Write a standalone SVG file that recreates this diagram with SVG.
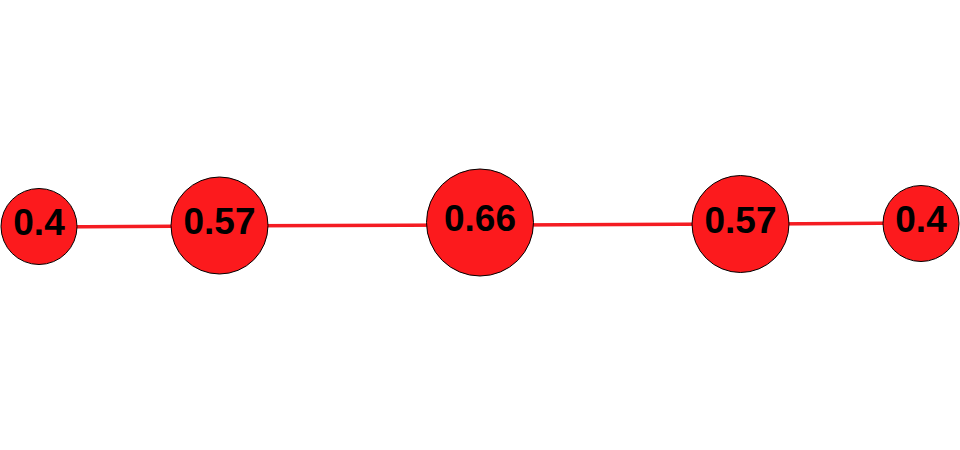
<svg xmlns="http://www.w3.org/2000/svg" width="960" height="450" viewBox="0 0 960 450">
<style>
.n{fill:#fc1a1d;stroke:#000;stroke-width:1}
.t{font-family:"Liberation Sans",Arial,sans-serif;font-weight:bold;font-size:37px;fill:#000;text-anchor:middle}
.e{stroke:#f41c22;stroke-width:3.5;fill:none}
</style>
<rect width="960" height="450" fill="#fff"/>
<g id="edges">
<line class="e" x1="39" y1="227" x2="219" y2="226"/>
<line class="e" x1="219" y1="226" x2="480" y2="225"/>
<line class="e" x1="480" y1="225" x2="740" y2="224"/>
<line class="e" x1="740" y1="224" x2="921" y2="223"/>
</g>
<g id="n1"><circle class="n" cx="39" cy="226.5" r="38"/><text class="t" x="39" y="235">0.4</text></g>
<g id="n2"><circle class="n" cx="219.5" cy="225.5" r="48.5"/><text class="t" x="219.5" y="234">0.57</text></g>
<g id="n3"><circle class="n" cx="480" cy="222.5" r="53.5"/><text class="t" x="480" y="231">0.66</text></g>
<g id="n4"><circle class="n" cx="740.5" cy="224" r="48.5"/><text class="t" x="740.5" y="233">0.57</text></g>
<g id="n5"><circle class="n" cx="921" cy="223.5" r="38"/><text class="t" x="921" y="232">0.4</text></g>
</svg>
